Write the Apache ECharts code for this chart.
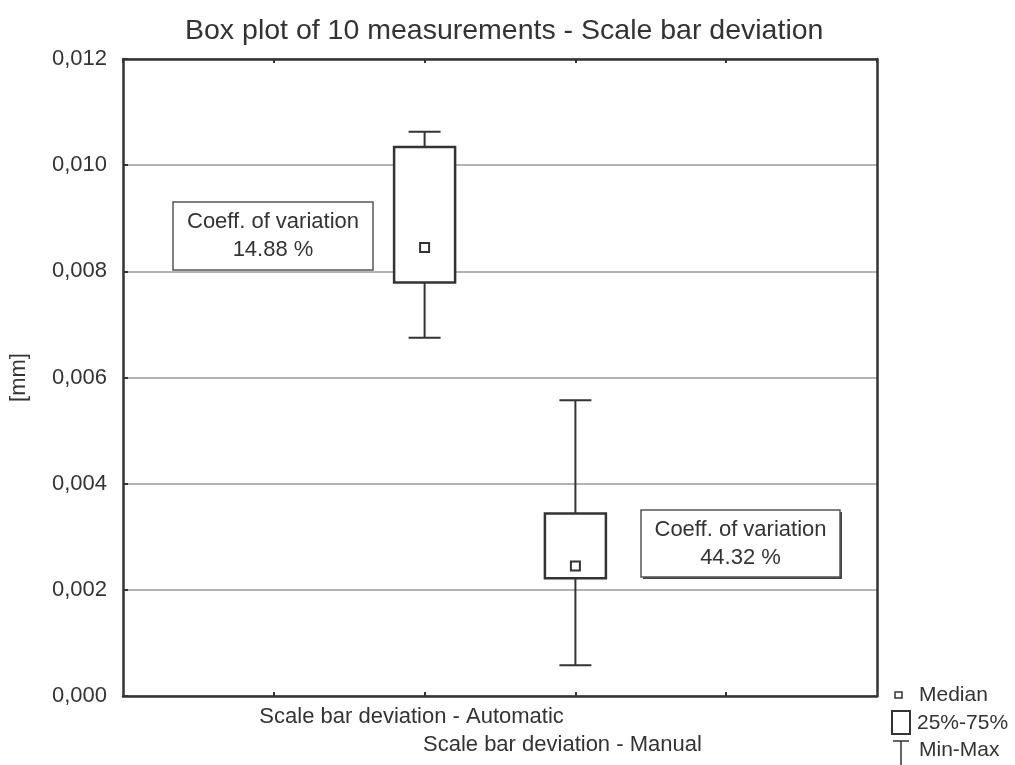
<!DOCTYPE html>
<html>
<head>
<meta charset="utf-8">
<script src="https://cdn.jsdelivr.net/npm/echarts@6/dist/echarts.min.js"></script>
<style>
html,body{margin:0;padding:0;background:#fff;}
#chart{width:1015px;height:765px;}
</style>
</head>
<body>
<div id="chart"></div>
<script>
const titleText = 'Box plot of 10 measurements - Scale bar deviation';
const categories = ['Scale bar deviation - Automatic', 'Scale bar deviation - Manual'];
const minVals = [0.00675, 0.00058];
const q1Vals = [0.00779, 0.00222];
const medianVals = [0.00845, 0.00245];
const q3Vals = [0.01034, 0.00344];
const maxVals = [0.01063, 0.00557];
const cvLabels = ['14.88 %', '44.32 %'];
const yTicks = [0, 0.002, 0.004, 0.006, 0.008, 0.010, 0.012];
const legendLabels = ['Median', '25%-75%', 'Min-Max'];

const FONT = 'Liberation Sans, Arial, sans-serif';
const INK = '#333';

const chart = echarts.init(document.getElementById('chart'), null, {renderer: 'canvas'});

const boxData = categories.map((c, i) => [i, minVals[i], q1Vals[i], medianVals[i], q3Vals[i], maxVals[i]]);

function renderBox(params, api) {
  const x = api.value(0);
  const pMin = api.coord([x, api.value(1)]);
  const pQ1 = api.coord([x, api.value(2)]);
  const pMed = api.coord([x, api.value(3)]);
  const pQ3 = api.coord([x, api.value(4)]);
  const pMax = api.coord([x, api.value(5)]);
  const cx = pMin[0];
  const bw = 61, cw = 32, ms = 9;
  const ls = {stroke: INK, lineWidth: 2, fill: null};
  return {
    type: 'group',
    children: [
      {type: 'line', shape: {x1: cx, y1: pMax[1], x2: cx, y2: pQ3[1]}, style: ls},
      {type: 'line', shape: {x1: cx, y1: pQ1[1], x2: cx, y2: pMin[1]}, style: ls},
      {type: 'line', shape: {x1: cx - cw / 2, y1: pMax[1], x2: cx + cw / 2, y2: pMax[1]}, style: ls},
      {type: 'line', shape: {x1: cx - cw / 2, y1: pMin[1], x2: cx + cw / 2, y2: pMin[1]}, style: ls},
      {type: 'rect', shape: {x: cx - bw / 2, y: pQ3[1], width: bw, height: pQ1[1] - pQ3[1]},
        style: {stroke: INK, lineWidth: 2.5, fill: '#fff'}},
      {type: 'rect', shape: {x: cx - ms / 2, y: pMed[1] - ms / 2, width: ms, height: ms},
        style: {stroke: INK, lineWidth: 2, fill: '#fff'}}
    ]
  };
}

const option = {
  backgroundColor: '#fff',
  animation: false,
  title: {
    text: titleText, left: 180, top: 12,
    textStyle: {fontFamily: FONT, fontSize: 28.5, fontWeight: 'normal', color: INK}
  },
  grid: {left: 121, right: 138, top: 59, bottom: 69, containLabel: false},
  xAxis: [{
    type: 'value', min: -2, max: 3, interval: 1,
    axisLine: {show: true, onZero: false, lineStyle: {color: INK, width: 2.5}},
    axisTick: {show: true, inside: true, length: 4, lineStyle: {color: INK, width: 2}},
    splitLine: {show: false},
    axisLabel: {
      show: true, margin: 7, fontFamily: FONT, fontSize: 22, color: INK, lineHeight: 28,
      padding: [0, 26, 0, 0],
      showMinLabel: false, showMaxLabel: false,
      formatter: function (v) {
        const i = Math.round(v);
        if (Math.abs(v - i) > 1e-9 || !categories[i]) return '';
        return (i % 2 === 1 ? '\n' : '') + categories[i];
      }
    }
  }, {
    type: 'value', position: 'top', min: -2, max: 3, interval: 1,
    axisLine: {show: true, onZero: false, lineStyle: {color: INK, width: 2.5}},
    axisTick: {show: true, inside: true, length: 4, lineStyle: {color: INK, width: 2}},
    axisLabel: {show: false}, splitLine: {show: false}
  }],
  yAxis: [{
    type: 'value', min: yTicks[0], max: yTicks[yTicks.length - 1], interval: 0.002,
    name: '[mm]', nameLocation: 'middle', nameGap: 93, nameRotate: 90,
    nameTextStyle: {fontFamily: FONT, fontSize: 22, color: INK},
    axisLine: {show: true, onZero: false, lineStyle: {color: INK, width: 2.5}},
    axisTick: {show: true, inside: true, length: 5, lineStyle: {color: INK, width: 2}},
    splitLine: {show: true, lineStyle: {color: '#9a9a9a', width: 1.5}},
    axisLabel: {
      margin: 16, fontFamily: FONT, fontSize: 22, color: INK,
      formatter: v => v.toFixed(3).replace('.', ',')
    }
  }, {
    type: 'value', position: 'right', min: yTicks[0], max: yTicks[yTicks.length - 1], interval: 0.002,
    axisLine: {show: true, onZero: false, lineStyle: {color: INK, width: 2.5}},
    axisTick: {show: false}, axisLabel: {show: false}, splitLine: {show: false}
  }],
  series: [{
    type: 'custom', xAxisIndex: 0, yAxisIndex: 0,
    renderItem: renderBox, data: boxData, z: 5,
    encode: {x: 0, y: [1, 2, 3, 4, 5]}
  }]
};
chart.setOption(option);

function noteBox(x, y, w, h, lines, shadow) {
  const children = [];
  if (shadow) {
    children.push({type: 'rect', shape: {x: x + 2, y: y + 2, width: w, height: h}, style: {fill: '#444'}});
  }
  children.push({type: 'rect', shape: {x: x, y: y, width: w, height: h}, style: {fill: '#fff', stroke: '#555', lineWidth: 1.5}});
  children.push({type: 'text', style: {x: x + w / 2, y: y + h / 2 - 14, text: lines[0], align: 'center', verticalAlign: 'middle', font: '22px ' + FONT, fill: INK}});
  children.push({type: 'text', style: {x: x + w / 2, y: y + h / 2 + 14, text: lines[1], align: 'center', verticalAlign: 'middle', font: '22px ' + FONT, fill: INK}});
  return {type: 'group', z: 10, children: children};
}

const graphics = [
  noteBox(173, 202, 200, 68, ['Coeff. of variation', cvLabels[0]], false),
  noteBox(641, 510, 199, 67, ['Coeff. of variation', cvLabels[1]], true),
  {type: 'rect', z: 10, shape: {x: 895, y: 692, width: 7, height: 6}, style: {fill: '#fff', stroke: INK, lineWidth: 1.5}},
  {type: 'text', z: 10, style: {x: 919, y: 695, text: legendLabels[0], verticalAlign: 'middle', font: '21px ' + FONT, fill: INK}},
  {type: 'rect', z: 10, shape: {x: 892, y: 711, width: 18, height: 23}, style: {fill: '#fff', stroke: INK, lineWidth: 2}},
  {type: 'text', z: 10, style: {x: 917, y: 723, text: legendLabels[1], verticalAlign: 'middle', font: '21px ' + FONT, fill: INK}},
  {type: 'line', z: 10, shape: {x1: 893, y1: 741, x2: 909, y2: 741}, style: {stroke: INK, lineWidth: 1.5}},
  {type: 'line', z: 10, shape: {x1: 901, y1: 741, x2: 901, y2: 765}, style: {stroke: INK, lineWidth: 1.5}},
  {type: 'text', z: 10, style: {x: 919, y: 750, text: legendLabels[2], verticalAlign: 'middle', font: '21px ' + FONT, fill: INK}}
];
chart.setOption({graphic: graphics});
</script>
</body>
</html>
